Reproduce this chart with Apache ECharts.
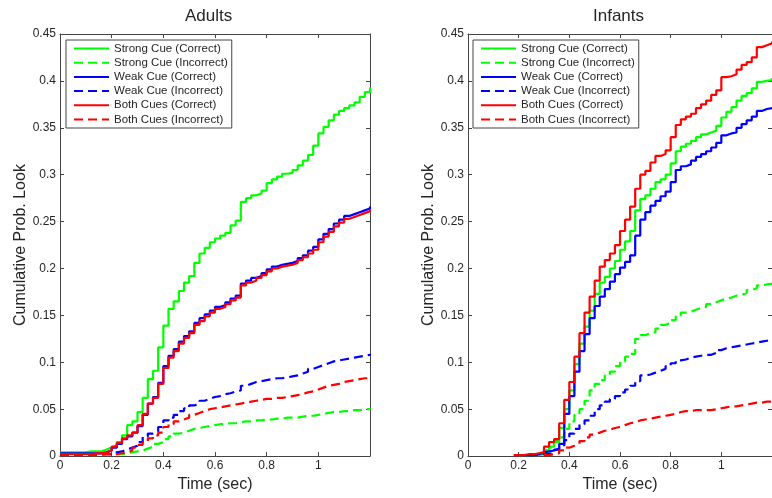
<!DOCTYPE html>
<html>
<head>
<meta charset="utf-8">
<script src="https://cdn.jsdelivr.net/npm/echarts@6/dist/echarts.min.js"></script>
<style>
  html, body { margin: 0; padding: 0; background: #fff; }
  #chart { width: 772px; height: 498px; }
</style>
</head>
<body>
<div id="chart"></div>
<script>
// time samples (sec), one every 0.02
var times = [
  0, 0.02, 0.04, 0.06, 0.08, 0.10, 0.12, 0.14, 0.16, 0.18,
  0.20, 0.22, 0.24, 0.26, 0.28, 0.30, 0.32, 0.34, 0.36, 0.38,
  0.40, 0.42, 0.44, 0.46, 0.48, 0.50, 0.52, 0.54, 0.56, 0.58,
  0.60, 0.62, 0.64, 0.66, 0.68, 0.70, 0.72, 0.74, 0.76, 0.78,
  0.80, 0.82, 0.84, 0.86, 0.88, 0.90, 0.92, 0.94, 0.96, 0.98,
  1.00, 1.02, 1.04, 1.06, 1.08, 1.10, 1.12, 1.14, 1.16, 1.18,
  1.20
];

var seriesNames = [
  'Strong Cue (Correct)', 'Strong Cue (Incorrect)',
  'Weak Cue (Correct)', 'Weak Cue (Incorrect)',
  'Both Cues (Correct)', 'Both Cues (Incorrect)'
];

var yTicks = [0, 0.05, 0.1, 0.15, 0.2, 0.25, 0.3, 0.35, 0.4, 0.45];
var xTicks = [0, 0.2, 0.4, 0.6, 0.8, 1];

// ---- Adults ----
var adultStrongCorrect = [
  .004,.004,.004,.004,.004,.005,.005,.005,.007,.009,
  .011,.015,.022,.033,.037,.047,.062,.082,.091,.116,
  .139,.157,.165,.176,.185,.192,.206,.216,.222,.228,
  .232,.235,.238,.246,.251,.271,.275,.278,.280,.283,
  .291,.295,.298,.301,.302,.305,.310,.315,.321,.331,
  .344,.351,.358,.364,.368,.371,.374,.377,.383,.388,
  .393
];
var adultStrongIncorrect = [
  .001,.001,.001,.001,.001,.001,.001,.001,.002,.002,
  .002,.002,.003,.004,.005,.006,.008,.010,.013,.015,
  .018,.021,.024,.025,.027,.029,.030,.031,.032,.033,
  .034,.034,.035,.035,.036,.037,.037,.038,.038,.039,
  .039,.040,.040,.041,.041,.041,.042,.043,.043,.044,
  .045,.046,.047,.047,.048,.048,.049,.049,.050,.050,
  .051
];
var adultWeakCorrect = [
  .003,.003,.003,.003,.003,.003,.003,.003,.004,.006,
  .009,.013,.018,.021,.025,.032,.044,.056,.063,.078,
  .096,.107,.114,.122,.128,.133,.142,.147,.151,.155,
  .159,.161,.164,.168,.171,.184,.187,.190,.192,.195,
  .199,.202,.204,.205,.206,.208,.211,.214,.219,.223,
  .231,.237,.242,.248,.252,.256,.258,.260,.262,.264,
  .266
];
var adultWeakIncorrect = [
  .001,.001,.001,.001,.001,.001,.002,.002,.002,.002,
  .004,.005,.007,.009,.011,.015,.021,.024,.026,.031,
  .038,.041,.044,.048,.051,.054,.056,.059,.061,.063,
  .064,.066,.067,.069,.070,.075,.077,.079,.080,.081,
  .082,.083,.083,.084,.085,.086,.088,.090,.093,.095,
  .097,.099,.101,.102,.103,.104,.105,.106,.107,.108,
  .109
];
var adultBothCorrect = [
  .002,.002,.002,.002,.002,.002,.003,.003,.004,.006,
  .010,.014,.019,.022,.025,.033,.045,.056,.062,.077,
  .094,.105,.112,.120,.126,.131,.140,.144,.149,.153,
  .157,.159,.162,.166,.169,.182,.185,.187,.190,.193,
  .197,.200,.202,.203,.204,.206,.209,.212,.216,.220,
  .228,.234,.239,.245,.249,.253,.255,.257,.259,.261,
  .263
];
var adultBothIncorrect = [
  .001,.001,.001,.001,.001,.001,.001,.002,.002,.002,
  .002,.003,.004,.006,.009,.012,.015,.019,.022,.025,
  .031,.034,.037,.039,.041,.044,.046,.048,.050,.051,
  .052,.053,.054,.055,.056,.057,.058,.059,.060,.061,
  .061,.062,.062,.063,.064,.065,.066,.068,.069,.071,
  .073,.075,.076,.077,.079,.080,.081,.082,.083,.083,
  .084
];

// ---- Infants ----
var infantStrongCorrect = [
  null,null,null,null,null,null,null,null,null,null,
  .001,.001,.002,.002,.003,.006,.010,.016,.030,.050,
  .070,.098,.120,.138,.155,.173,.185,.191,.200,.208,
  .220,.229,.240,.262,.274,.278,.285,.292,.295,.300,
  .312,.325,.330,.333,.336,.340,.343,.345,.347,.352,
  .361,.367,.372,.379,.384,.387,.392,.399,.400,.401,
  .403
];
var infantStrongIncorrect = [
  null,null,null,null,null,null,null,null,null,null,
  null,null,null,.001,.002,.004,.009,.015,.020,.029,
  .037,.044,.050,.059,.070,.077,.081,.086,.090,.096,
  .101,.106,.109,.125,.129,.131,.132,.136,.140,.142,
  .145,.150,.153,.154,.156,.158,.159,.162,.164,.166,
  .168,.169,.171,.172,.174,.177,.179,.182,.183,.184,
  .185
];
var infantWeakCorrect = [
  null,null,null,null,null,null,null,null,null,null,
  .001,.001,.002,.002,.004,.005,.006,.008,.013,.045,
  .064,.090,.112,.130,.147,.160,.170,.178,.186,.194,
  .201,.207,.214,.235,.252,.260,.267,.272,.277,.282,
  .292,.305,.309,.311,.315,.319,.322,.325,.329,.334,
  .342,.344,.345,.350,.354,.358,.362,.368,.370,.371,
  .372
];
var infantWeakIncorrect = [
  null,null,null,null,null,null,null,null,null,null,
  null,null,.001,.001,.002,.002,.004,.007,.010,.017,
  .024,.029,.034,.038,.043,.050,.054,.058,.061,.064,
  .068,.071,.075,.080,.086,.087,.089,.091,.093,.096,
  .099,.102,.103,.105,.106,.107,.108,.108,.110,.113,
  .115,.116,.117,.118,.119,.120,.121,.122,.123,.124,
  .125
];
var infantBothCorrect = [
  null,null,null,null,null,null,null,null,null,.001,
  .001,.002,.002,.003,.004,.010,.015,.018,.035,.060,
  .079,.106,.131,.153,.170,.187,.202,.209,.216,.225,
  .240,.252,.266,.285,.300,.304,.313,.320,.322,.326,
  .340,.353,.359,.362,.365,.371,.375,.379,.385,.390,
  .404,.405,.407,.412,.417,.420,.425,.436,.438,.440,
  .442
];
var infantBothIncorrect = [
  null,null,null,null,null,null,null,null,null,null,
  null,null,null,null,null,.001,.002,.003,.006,.009,
  .011,.013,.016,.020,.023,.025,.027,.028,.030,.031,
  .033,.035,.036,.038,.039,.040,.041,.042,.043,.044,
  .045,.047,.048,.048,.049,.049,.049,.049,.050,.051,
  .052,.053,.053,.054,.055,.056,.057,.057,.058,.058,
  .059
];

var colors = ['#00ff00', '#00ff00', '#0000ff', '#0000ff', '#ff0000', '#ff0000'];
var dashed = [false, true, false, true, false, true];

var font = 'Liberation Sans, Arial, Helvetica, sans-serif';
var ink = '#262626';
var frame = '#444';

var chart = echarts.init(document.getElementById('chart'));

var grids = [
  { left: 60, top: 34, width: 310, height: 425 },
  { left: 468, top: 34, width: 310, height: 425 }
];

function pairs(vals) {
  return times.map(function (t, i) { return [t, vals[i]]; });
}

function makeSeries(list, gi) {
  return list.map(function (vals, k) {
    return {
      name: seriesNames[k],
      type: 'line',
      xAxisIndex: gi * 2,
      yAxisIndex: gi * 2,
      data: pairs(vals),
      step: 'end',
      symbol: 'none',
      connectNulls: false,
      lineStyle: {
        color: colors[k],
        width: 2.2,
        type: dashed[k] ? [9, 5] : 'solid'
      },
      itemStyle: { color: colors[k] }
    };
  });
}

// box frame: bottom/left axes carry labels, top/right only carry inner ticks
var xAxes = [], yAxes = [];
[0, 1].forEach(function (gi) {
  xAxes.push({
    type: 'value', gridIndex: gi, min: 0, max: 1.2, interval: 0.2,
    position: 'bottom',
    axisLine: { show: true, onZero: false, lineStyle: { color: frame } },
    axisTick: { show: true, inside: true, length: 4, lineStyle: { color: frame } },
    axisLabel: { color: ink, fontFamily: font, fontSize: 12, margin: 4, showMaxLabel: false },
    splitLine: { show: false },
    name: 'Time (sec)', nameLocation: 'middle', nameGap: 20,
    nameTextStyle: { color: ink, fontFamily: font, fontSize: 16 }
  });
  xAxes.push({
    type: 'value', gridIndex: gi, min: 0, max: 1.2, interval: 0.2,
    position: 'top',
    axisLine: { show: true, onZero: false, lineStyle: { color: frame } },
    axisTick: { show: true, inside: true, length: 4, lineStyle: { color: frame } },
    axisLabel: { show: false },
    splitLine: { show: false }
  });
  yAxes.push({
    type: 'value', gridIndex: gi, min: 0, max: 0.45, interval: 0.05,
    position: 'left',
    axisLine: { show: true, onZero: false, lineStyle: { color: frame } },
    axisTick: { show: true, inside: true, length: 4, lineStyle: { color: frame } },
    axisLabel: { color: ink, fontFamily: font, fontSize: 12, margin: 4 },
    splitLine: { show: false },
    name: 'Cumulative Prob. Look', nameLocation: 'middle', nameGap: 25,
    nameTextStyle: { color: ink, fontFamily: font, fontSize: 16 }
  });
  yAxes.push({
    type: 'value', gridIndex: gi, min: 0, max: 0.45, interval: 0.05,
    position: 'right',
    axisLine: { show: true, onZero: false, lineStyle: { color: frame } },
    axisTick: { show: true, inside: true, length: 4, lineStyle: { color: frame } },
    axisLabel: { show: false },
    splitLine: { show: false }
  });
});

function makeLegend(left) {
  return {
    left: left, top: 40,
    orient: 'vertical',
    data: seriesNames,
    itemWidth: 35, itemHeight: 12, itemGap: 2.2,
    padding: [2.5, 4, 2.5, 7],
    borderColor: frame, borderWidth: 1,
    backgroundColor: '#fff',
    selectedMode: false,
    // hide the marker dot, keep only the line sample
    itemStyle: { opacity: 0, borderWidth: 0 },
    textStyle: { color: ink, fontFamily: font, fontSize: 11.5, lineHeight: 12 }
  };
}

var option = {
  animation: false,
  backgroundColor: '#fff',
  grid: grids,
  xAxis: xAxes,
  yAxis: yAxes,
  legend: [makeLegend(66), makeLegend(473)],
  graphic: [
    { type: 'text', left: 215 - 30, top: 8,
      style: { text: 'Adults', font: '17px ' + font, fill: ink, width: 60, textAlign: 'center' } },
    { type: 'text', left: 623 - 30, top: 8,
      style: { text: 'Infants', font: '17px ' + font, fill: ink, width: 60, textAlign: 'center' } }
  ],
  series: makeSeries([
    adultStrongCorrect, adultStrongIncorrect,
    adultWeakCorrect, adultWeakIncorrect,
    adultBothCorrect, adultBothIncorrect
  ], 0).concat(makeSeries([
    infantStrongCorrect, infantStrongIncorrect,
    infantWeakCorrect, infantWeakIncorrect,
    infantBothCorrect, infantBothIncorrect
  ], 1))
};

chart.setOption(option);
</script>
</body>
</html>
